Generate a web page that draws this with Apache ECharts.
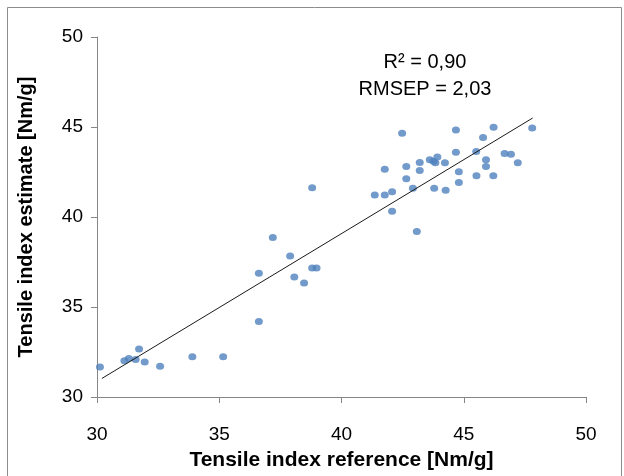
<!DOCTYPE html>
<html>
<head>
<meta charset="utf-8">
<script src="https://cdn.jsdelivr.net/npm/echarts@6/dist/echarts.min.js"></script>
<style>
html,body{margin:0;padding:0;background:#fff;}
#chart{width:624px;height:476px;}
</style>
</head>
<body>
<div id="chart"></div>
<script>
// Data
var refX = [30.12, 31.12, 31.30, 31.58, 31.72, 31.95, 32.58, 33.90, 35.16,
  36.62, 36.62, 37.19, 37.90, 38.07, 38.47, 38.80, 38.98, 38.80,
  41.36, 41.77, 41.77, 42.07, 42.07, 42.48, 42.65, 42.65, 42.92, 43.08,
  43.20, 43.20, 43.61, 43.76, 43.84, 43.92, 43.79, 44.23, 44.26, 44.68,
  44.68, 44.80, 44.80, 45.51, 45.52, 45.79, 45.91, 45.91, 46.22, 46.21,
  46.67, 46.93, 47.21, 47.80];
var estY = [31.67, 32.01, 32.14, 32.09, 32.66, 31.94, 31.71, 32.23, 32.23,
  34.19, 36.88, 38.86, 37.83, 36.67, 36.34, 37.17, 37.17, 41.62,
  41.22, 42.65, 41.22, 41.40, 40.32, 44.65, 42.80, 42.13, 41.60, 39.20,
  43.03, 42.58, 43.18, 43.10, 43.02, 43.34, 41.60, 43.02, 41.48, 44.84,
  43.60, 42.51, 41.92, 43.64, 42.29, 44.42, 43.18, 42.81, 44.98, 42.29,
  43.53, 43.49, 43.02, 44.95];
var trendX = [30.2, 47.82];
var trendY = [31.03, 45.5];
var xTicks = [30, 35, 40, 45, 50];
var yTicks = [30, 35, 40, 45, 50];
var annotation = ['R\u00B2 = 0,90', 'RMSEP = 2,03'];

var points = refX.map(function (x, i) { return [x, estY[i]]; });
var trend = trendX.map(function (x, i) { return [x, trendY[i]]; });

var chart = echarts.init(document.getElementById('chart'), null, {renderer: 'canvas'});
var font = 'Liberation Sans';
chart.setOption({
  animation: false,
  backgroundColor: '#ffffff',
  grid: {left: 97, right: 38, top: 37, bottom: 77},
  xAxis: {
    type: 'value', min: xTicks[0], max: xTicks[xTicks.length - 1], interval: 5,
    splitLine: {show: false},
    axisLine: {show: true, lineStyle: {color: '#868686', width: 1}},
    axisTick: {show: true, inside: false, length: 6, lineStyle: {color: '#868686'}},
    axisLabel: {margin: 28, color: '#000', fontFamily: font, fontSize: 19},
    name: 'Tensile index reference [Nm/g]', nameLocation: 'middle', nameGap: 53,
    nameTextStyle: {color: '#000', fontFamily: font, fontSize: 21, fontWeight: 'bold'}
  },
  yAxis: {
    type: 'value', min: yTicks[0], max: yTicks[yTicks.length - 1], interval: 5,
    splitLine: {show: false},
    axisLine: {show: true, lineStyle: {color: '#868686', width: 1}},
    axisTick: {show: true, inside: false, length: 6, lineStyle: {color: '#868686'}},
    axisLabel: {margin: 14, color: '#000', fontFamily: font, fontSize: 19},
    name: 'Tensile index estimate [Nm/g]', nameLocation: 'middle', nameGap: 61,
    nameTextStyle: {color: '#000', fontFamily: font, fontSize: 20, fontWeight: 'bold'}
  },
  series: [
    {
      type: 'scatter', data: points, symbol: 'circle', symbolSize: [8, 7],
      itemStyle: {color: '#4F81BD'}, z: 3
    },
    {
      type: 'line', data: trend, symbol: 'none',
      lineStyle: {color: '#1a1a1a', width: 1}, z: 4
    }
  ],
  graphic: [
    {type: 'rect', shape: {x: 7.5, y: 7.5, width: 614, height: 480},
     style: {fill: 'none', stroke: '#8c8c8c', lineWidth: 1}, silent: true},
    {type: 'text', x: 425, y: 62, style: {text: annotation[0], fill: '#000', font: '20px "Liberation Sans"', align: 'center', verticalAlign: 'middle'}},
    {type: 'text', x: 425, y: 89, style: {text: annotation[1], fill: '#000', font: '20px "Liberation Sans"', align: 'center', verticalAlign: 'middle'}}
  ]
});
</script>
</body>
</html>
